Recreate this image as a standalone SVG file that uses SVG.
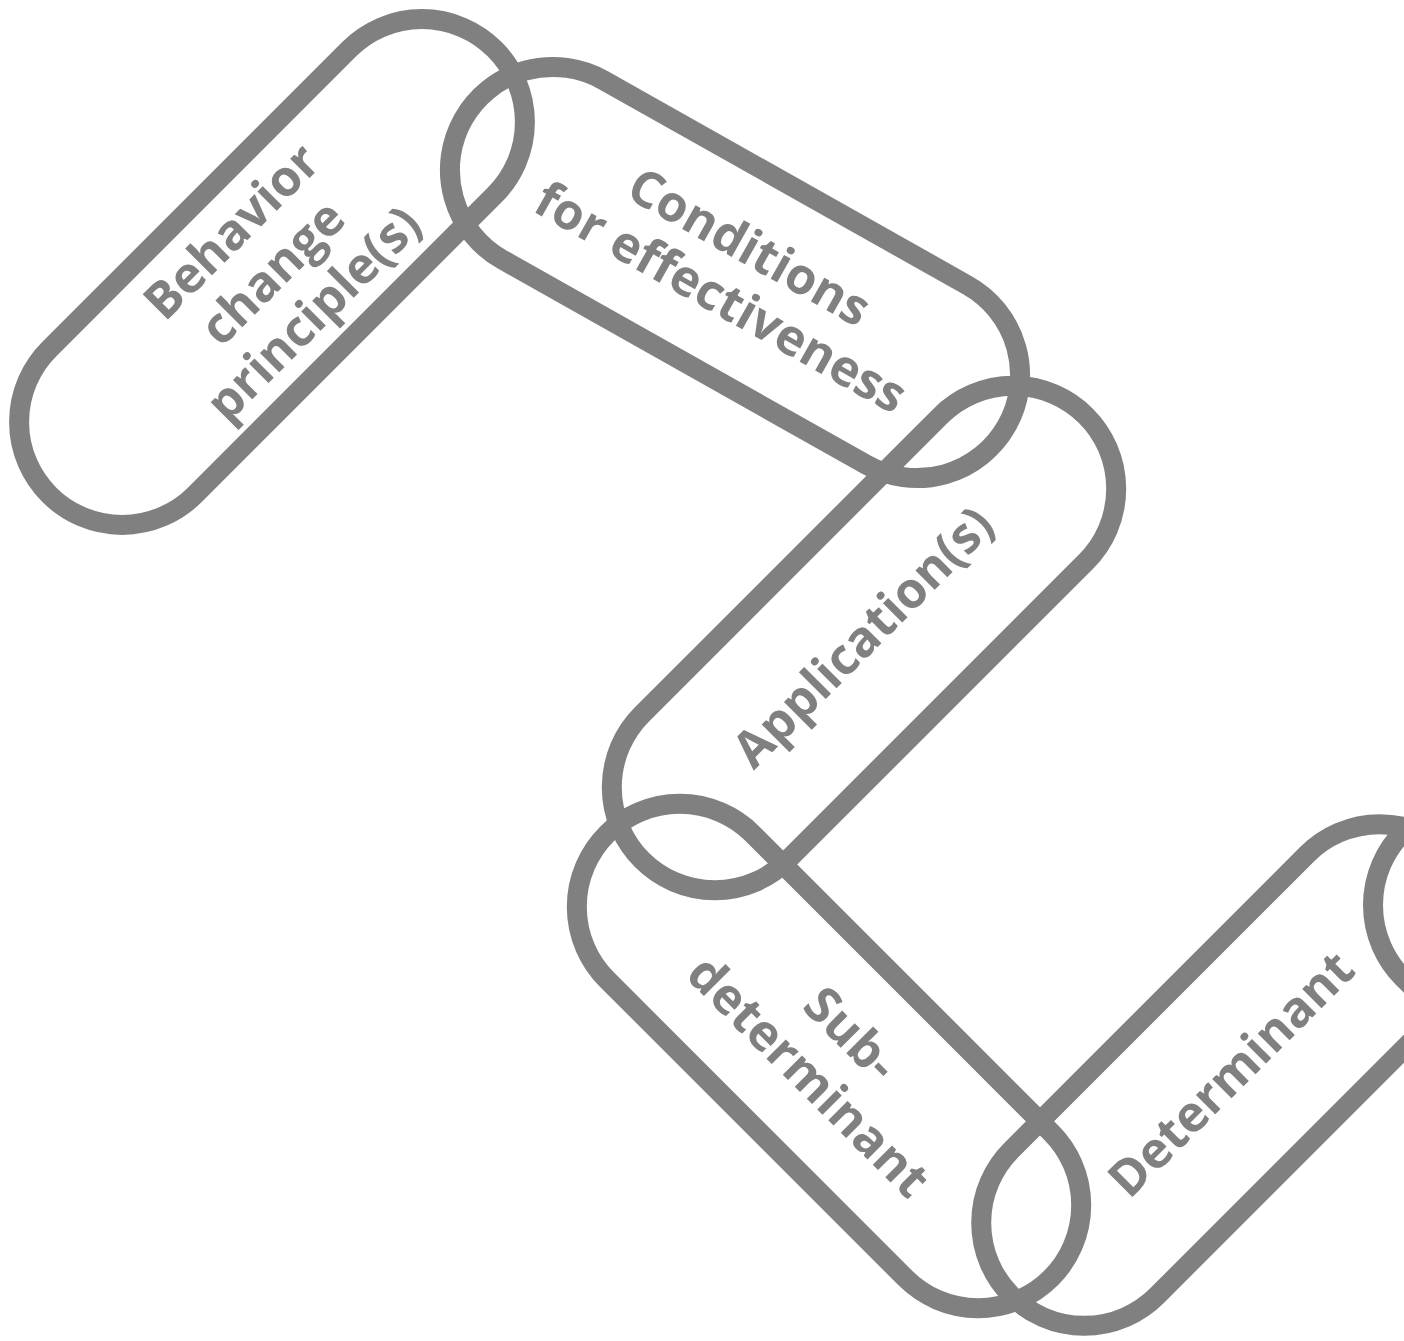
<svg xmlns="http://www.w3.org/2000/svg" width="1404" height="1341" viewBox="0 0 1404 1341">
<style>
.pill{fill:none;stroke:#808080;stroke-width:20}
.lbl{font-family:"Open Sans","Noto Sans","Liberation Sans",sans-serif;font-weight:bold;font-size:50px;fill:#808080;text-anchor:middle}
</style>
<rect width="1404" height="1341" fill="#ffffff"/>
<g id="node-behavior" transform="translate(272,272) rotate(-45)">
<rect class="pill" x="-315" y="-103" width="630" height="206" rx="103"/>
<text class="lbl"><tspan x="0" y="-40">Behavior</tspan><tspan x="0" y="18">change</tspan><tspan x="0" y="76">principle(s)</tspan></text>
</g>
<g id="node-conditions" transform="translate(735,272.5) rotate(29.4)">
<rect class="pill" x="-312" y="-103" width="624" height="206" rx="103"/>
<text class="lbl"><tspan x="0" y="-12">Conditions</tspan><tspan x="0" y="46">for effectiveness</tspan></text>
</g>
<g id="node-application" transform="translate(864,638) rotate(-45)">
<rect class="pill" x="-314" y="-103" width="628" height="206" rx="103"/>
<text class="lbl" x="0" y="16">Application(s)</text>
</g>
<g id="node-subdeterminant" transform="translate(829,1056) rotate(45)">
<rect class="pill" x="-314" y="-103" width="628" height="206" rx="103"/>
<text class="lbl"><tspan x="0" y="-14">Sub-</tspan><tspan x="0" y="46">determinant</tspan></text>
</g>
<g id="node-determinant" transform="translate(1232,1075) rotate(-45)">
<rect class="pill" x="-312" y="-103" width="624" height="206" rx="103"/>
<text class="lbl" x="0" y="16">Determinant</text>
</g>
<g id="node-next" transform="translate(1624.5,1053.5) rotate(45)">
<rect class="pill" x="-313" y="-103" width="626" height="206" rx="103"/>
</g>
<g id="connectors"></g>
</svg>
